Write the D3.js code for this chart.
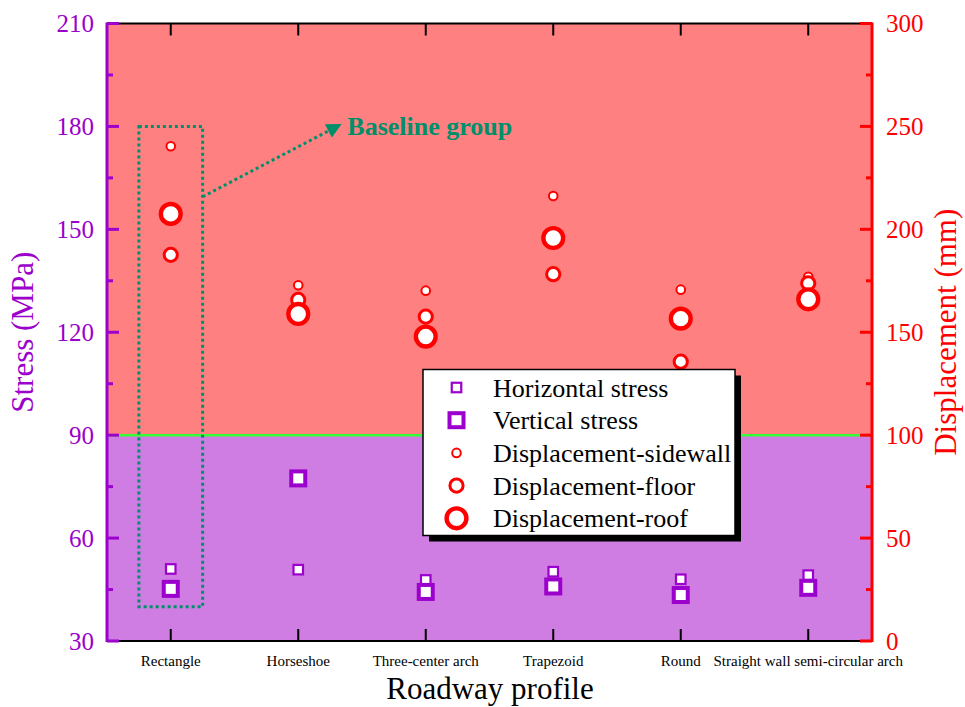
<!DOCTYPE html>
<html><head><meta charset="utf-8">
<script src="https://cdn.jsdelivr.net/npm/d3@7"></script>
<style>
body{margin:0;background:#fff}
svg{display:block}
text{font-family:"Liberation Serif","Times New Roman",serif}
</style>
</head><body>
<svg id="chart" width="965" height="707"></svg>
<script>
// ---------- data ----------
const categories = ["Rectangle","Horseshoe","Three-center arch","Trapezoid","Round","Straight wall semi-circular arch"];
const horizontalStress = [51.0, 50.8, 47.8, 50.2, 48.0, 49.2];
const verticalStress   = [45.2, 77.4, 44.3, 45.9, 43.4, 45.5];
const dispSidewall = [240.4, 172.8, 170.2, 216.2, 170.7, 177.0];
const dispFloor    = [187.6, 165.7, 157.6, 178.2, 135.7, 173.8];
const dispRoof     = [207.5, 158.9, 147.9, 195.8, 156.6, 166.0];
const stressTicks = [30, 60, 90, 120, 150, 180, 210];
const stressMinorTicks = [45, 75, 105, 135, 165, 195];
const dispTicks = [0, 50, 100, 150, 200, 250, 300];
const dispMinorTicks = [25, 75, 125, 175, 225, 275];
const stressThreshold = 90;
const legendLabels = ["Horizontal stress","Vertical stress","Displacement-sidewall","Displacement-floor","Displacement-roof"];
const baselineCategory = "Rectangle";
const baselineStressRange = [40, 180];
const baselineLabel = "Baseline group";

// ---------- layout ----------
const L = 107, R = 872, T = 23.5, B = 641;
const purple = "#9B00CC", red = "#FF0000", green = "#008F6B";
const svg = d3.select("#chart");

const x = d3.scalePoint().domain(categories).range([L, R]).padding(0.5);
const yS = d3.scaleLinear().domain([30, 210]).range([B, T]);
const yD = d3.scaleLinear().domain([0, 300]).range([B, T]);

// backgrounds
svg.append("rect").attr("x", L).attr("y", yS(210)).attr("width", R - L)
  .attr("height", yS(stressThreshold) - yS(210)).attr("fill", "#FF8080");
svg.append("rect").attr("x", L).attr("y", yS(stressThreshold)).attr("width", R - L)
  .attr("height", yS(30) - yS(stressThreshold)).attr("fill", "#CF7DE2");
svg.append("line").attr("x1", L).attr("x2", R).attr("y1", yS(stressThreshold)).attr("y2", yS(stressThreshold))
  .attr("stroke", "#33FF33").attr("stroke-width", 2.5);

// baseline group annotation
const step = x.step();
const bx0 = x(baselineCategory) - step * 0.25, bx1 = x(baselineCategory) + step * 0.25;
svg.append("rect").attr("x", bx0).attr("y", yS(baselineStressRange[1]))
  .attr("width", bx1 - bx0).attr("height", yS(baselineStressRange[0]) - yS(baselineStressRange[1]))
  .attr("fill", "none").attr("stroke", green).attr("stroke-width", 3).attr("stroke-dasharray", "3,3");
svg.append("defs").append("marker").attr("id", "ah").attr("viewBox", "0 0 10 10")
  .attr("refX", 9).attr("refY", 5).attr("markerWidth", 6).attr("markerHeight", 5)
  .attr("orient", "auto").attr("markerUnits", "strokeWidth")
  .append("path").attr("d", "M0,0L10,5L0,10z").attr("fill", green);
const ax0 = bx1, ay0 = yS(159.5);
const ax1 = x(baselineCategory) + step * 1.33, ay1 = yS(180.5);
svg.append("line").attr("x1", ax0).attr("y1", ay0).attr("x2", ax1).attr("y2", ay1)
  .attr("stroke", green).attr("stroke-width", 3).attr("stroke-dasharray", "3,3")
  .attr("marker-end", "url(#ah)");
svg.append("text").attr("x", ax1 + 7).attr("y", ay1 + 1).attr("dy", "0.35em")
  .attr("fill", green).attr("font-weight", "bold").attr("font-size", 26).text(baselineLabel);

// markers
function squares(vals, side, sw) {
  svg.append("g").selectAll("rect").data(vals).join("rect")
    .attr("x", (d, i) => x(categories[i]) - side / 2).attr("y", d => yS(d) - side / 2)
    .attr("width", side).attr("height", side)
    .attr("fill", "#fff").attr("stroke", purple).attr("stroke-width", sw);
}
function circles(vals, r, sw) {
  svg.append("g").selectAll("circle").data(vals).join("circle")
    .attr("cx", (d, i) => x(categories[i])).attr("cy", d => yD(d)).attr("r", r)
    .attr("fill", "#fff").attr("stroke", red).attr("stroke-width", sw);
}
squares(horizontalStress, 9.5, 2.2);
squares(verticalStress, 14, 4);
circles(dispSidewall, 4.3, 2);
circles(dispFloor, 6.6, 3);
circles(dispRoof, 9.9, 4.4);

// frame: top & bottom black
svg.append("line").attr("x1", L).attr("x2", R).attr("y1", T).attr("y2", T).attr("stroke", "#000").attr("stroke-width", 2);
svg.append("line").attr("x1", L).attr("x2", R).attr("y1", B).attr("y2", B).attr("stroke", "#000").attr("stroke-width", 2);
const xTicks = svg.append("g");
categories.forEach(c => {
  xTicks.append("line").attr("x1", x(c)).attr("x2", x(c)).attr("y1", B).attr("y2", B - 12).attr("stroke", "#000").attr("stroke-width", 2);
  xTicks.append("line").attr("x1", x(c)).attr("x2", x(c)).attr("y1", T).attr("y2", T + 12).attr("stroke", "#000").attr("stroke-width", 2);
  xTicks.append("text").attr("x", x(c)).attr("y", 666).attr("text-anchor", "middle")
    .attr("font-size", 15).attr("fill", "#000").text(c);
});

// left axis
const gl = svg.append("g");
gl.append("line").attr("x1", L).attr("x2", L).attr("y1", T - 1).attr("y2", B + 1).attr("stroke", purple).attr("stroke-width", 3);
stressTicks.forEach(v => {
  gl.append("line").attr("x1", L).attr("x2", L + 12).attr("y1", yS(v)).attr("y2", yS(v)).attr("stroke", purple).attr("stroke-width", 3);
  gl.append("text").attr("x", L - 13).attr("y", yS(v)).attr("dy", "0.35em").attr("text-anchor", "end")
    .attr("font-size", 25).attr("fill", purple).text(v);
});
stressMinorTicks.forEach(v => {
  gl.append("line").attr("x1", L).attr("x2", L + 6).attr("y1", yS(v)).attr("y2", yS(v)).attr("stroke", purple).attr("stroke-width", 3);
});
gl.append("text").attr("transform", `translate(33,${(T + B) / 2}) rotate(-90)`).attr("text-anchor", "middle")
  .attr("font-size", 31).attr("fill", purple).text("Stress (MPa)");

// right axis
const gr = svg.append("g");
gr.append("line").attr("x1", R).attr("x2", R).attr("y1", T - 1).attr("y2", B + 1).attr("stroke", red).attr("stroke-width", 3);
dispTicks.forEach(v => {
  gr.append("line").attr("x1", R).attr("x2", R - 12).attr("y1", yD(v)).attr("y2", yD(v)).attr("stroke", red).attr("stroke-width", 3);
  gr.append("text").attr("x", R + 14).attr("y", yD(v)).attr("dy", "0.35em").attr("text-anchor", "start")
    .attr("font-size", 25).attr("fill", red).text(v);
});
dispMinorTicks.forEach(v => {
  gr.append("line").attr("x1", R).attr("x2", R - 6).attr("y1", yD(v)).attr("y2", yD(v)).attr("stroke", red).attr("stroke-width", 3);
});
gr.append("text").attr("transform", `translate(956,${(T + B) / 2}) rotate(-90)`).attr("text-anchor", "middle")
  .attr("font-size", 31).attr("fill", red).text("Displacement (mm)");

// x title
svg.append("text").attr("x", 490).attr("y", 699).attr("text-anchor", "middle").attr("font-size", 31)
  .attr("fill", "#000").text("Roadway profile");

// legend
const lg = svg.append("g").attr("transform", "translate(423,369.5)");
const lw = 312, lh = 166;
lg.append("rect").attr("x", 6).attr("y", 6).attr("width", lw).attr("height", lh).attr("fill", "#000");
lg.append("rect").attr("width", lw).attr("height", lh).attr("fill", "#fff").attr("stroke", "#000").attr("stroke-width", 1.5);
const rowY = i => 18 + i * 32.7;
const sx = 33.5;
const legendSym = [
  g => g.append("rect").attr("x", sx - 4.75).attr("y", -4.75).attr("width", 9.5).attr("height", 9.5).attr("fill", "#fff").attr("stroke", purple).attr("stroke-width", 2.2),
  g => g.append("rect").attr("x", sx - 7).attr("y", -7).attr("width", 14).attr("height", 14).attr("fill", "#fff").attr("stroke", purple).attr("stroke-width", 4),
  g => g.append("circle").attr("cx", sx).attr("cy", 0).attr("r", 4.3).attr("fill", "#fff").attr("stroke", red).attr("stroke-width", 2),
  g => g.append("circle").attr("cx", sx).attr("cy", 0).attr("r", 6.6).attr("fill", "#fff").attr("stroke", red).attr("stroke-width", 3),
  g => g.append("circle").attr("cx", sx).attr("cy", 0).attr("r", 9.9).attr("fill", "#fff").attr("stroke", red).attr("stroke-width", 4.4)
];
legendLabels.forEach((lab, i) => {
  const g = lg.append("g").attr("transform", `translate(0,${rowY(i)})`);
  legendSym[i](g);
  g.append("text").attr("x", 70).attr("y", 0).attr("dy", "0.35em").attr("font-size", 26).attr("fill", "#000").text(lab);
});
</script>
</body></html>
